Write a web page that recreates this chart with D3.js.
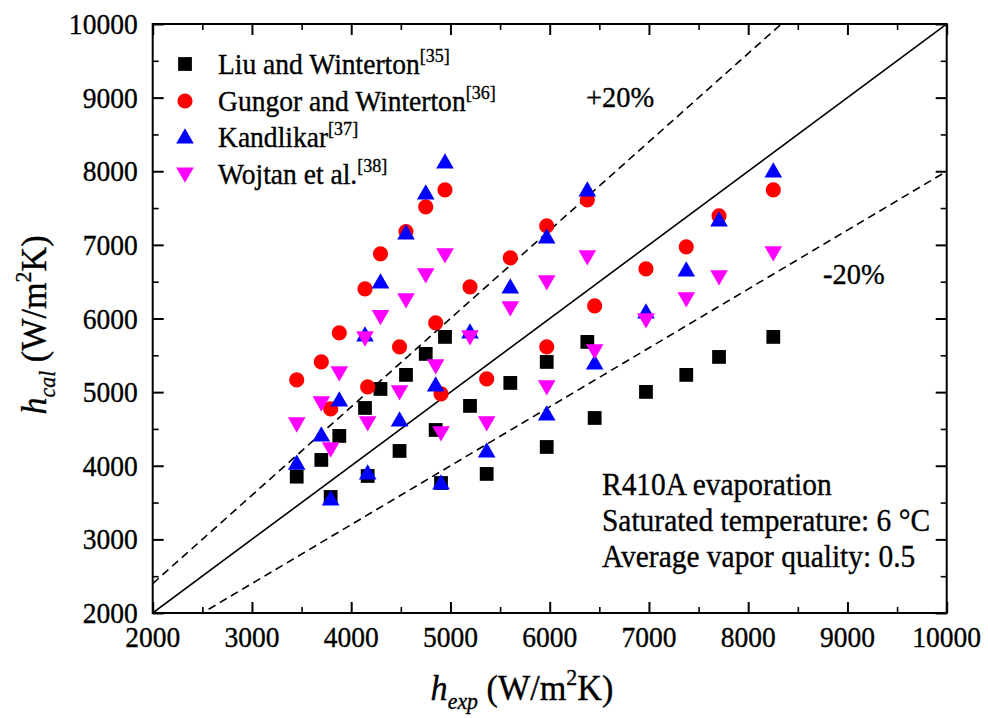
<!DOCTYPE html>
<html>
<head>
<meta charset="utf-8">
<script src="https://cdn.jsdelivr.net/npm/d3@7"></script>
<style>
  body { margin: 0; background: #fff; }
  svg text { font-family: "Liberation Serif", "Times New Roman", serif; }
</style>
</head>
<body>
<svg id="chart"></svg>
<script>
// experimental h (x) shared by all four correlations
const hExp = [3451, 3699, 3793, 3880, 4139, 4166, 4295, 4487, 4552, 4751, 4851, 4905,
  4945, 5197, 5365, 5603, 5970, 5970, 6379, 6453, 6970, 7376, 7706, 8253];

const liuWinterton = [3852, 4079, 3576, 4405, 4785, 3861, 5043, 4201, 5234, 5519, 4486, 3766,
  5750, 4813, 3889, 5125, 5410, 4255, 5682, 4649, 5003, 5234, 5478, 5750];
const gungorWinterton = [5166, 5410, 4772, 5804, 6402, 5071, 6878, 5614, 7181, 7516, 5940, 4976,
  7747, 6429, 5179, 6823, 7258, 5614, 7611, 6171, 6674, 6973, 7394, 7747];
const kandlikar = [4034, 4418, 3549, 4894, 5777, 3902, 6497, 4622, 7163, 7707, 5098, 3766,
  8128, 5818, 4201, 6429, 7109, 4704, 7747, 5397, 6090, 6660, 7340, 8005];
const wojtan = [4568, 4853, 4228, 5261, 5736, 4582, 6026, 5003, 6253, 6592, 5356, 4446,
  6864, 5750, 4582, 6144, 6497, 5071, 6837, 5560, 5981, 6266, 6565, 6891];

const seriesNames = ["Liu and Winterton", "Gungor and Winterton", "Kandlikar", "Wojtan et al."];
const seriesRefs = ["[35]", "[36]", "[37]", "[38]"];
const seriesValues = [liuWinterton, gungorWinterton, kandlikar, wojtan];

const xTicks = [2000, 3000, 4000, 5000, 6000, 7000, 8000, 9000, 10000];
const yTicks = [2000, 3000, 4000, 5000, 6000, 7000, 8000, 9000, 10000];
const deviationRatios = [1, 1.2, 0.8];
const infoLines = ["R410A evaporation", "Saturated temperature: 6 \u00B0C", "Average vapor quality: 0.5"];

const svgSize = { width: 988, height: 718 };
const margin = { top: 24, right: 41.3, bottom: 105, left: 152.7 };
const squeeze = 0.95;
const fontSize = 29;

const seriesStyles = [
  { symbol: d3.symbolSquare, size: 190, color: "#000000", rotate: 0 },
  { symbol: d3.symbolCircle, size: 180, color: "#ff0000", rotate: 0 },
  { symbol: d3.symbolTriangle, size: 135, color: "#0000ff", rotate: 0 },
  { symbol: d3.symbolTriangle, size: 135, color: "#ff00ff", rotate: 180 }
];

const svg = d3.select("#chart")
  .attr("width", svgSize.width)
  .attr("height", svgSize.height);

const xScale = d3.scaleLinear()
  .domain([2000, 10000])
  .range([margin.left, svgSize.width - margin.right]);
const yScale = d3.scaleLinear()
  .domain([2000, 10000])
  .range([svgSize.height - margin.bottom, margin.top]);

function squeezedText(group, x, y, anchor, size = fontSize) {
  return group.append("text")
    .attr("transform", `translate(${x},${y}) scale(${squeeze},1)`)
    .attr("text-anchor", anchor)
    .style("font-size", `${size}px`)
    .attr("fill", "#000")
    .attr("stroke", "#000")
    .attr("stroke-width", 0.35);
}

function drawReferenceLines() {
  svg.append("clipPath").attr("id", "plot-clip")
    .append("rect")
    .attr("x", xScale(2000)).attr("y", yScale(10000))
    .attr("width", xScale(10000) - xScale(2000))
    .attr("height", yScale(2000) - yScale(10000));

  const lineGroup = svg.append("g").attr("clip-path", "url(#plot-clip)");
  deviationRatios.forEach((ratio) => {
    lineGroup.append("line")
      .attr("x1", xScale(2000)).attr("y1", yScale(2000 * ratio))
      .attr("x2", xScale(10000)).attr("y2", yScale(10000 * ratio))
      .attr("stroke", "#000")
      .attr("stroke-width", 1.6)
      .attr("stroke-dasharray", ratio === 1 ? null : "8,5");
  });
}

function drawAxes() {
  const plotHeight = yScale(2000) - yScale(10000);
  const plotWidth = xScale(10000) - xScale(2000);
  const minorX = d3.range(2500, 10000, 1000);
  const minorY = d3.range(2500, 10000, 1000);

  const axes = [
    { make: d3.axisBottom, scale: xScale, at: `translate(0,${yScale(2000)})`, isX: true },
    { make: d3.axisTop, scale: xScale, at: `translate(0,${yScale(10000)})`, isX: true },
    { make: d3.axisLeft, scale: yScale, at: `translate(${xScale(2000)},0)`, isX: false },
    { make: d3.axisRight, scale: yScale, at: `translate(${xScale(10000)},0)`, isX: false }
  ];

  axes.forEach((a) => {
    const major = a.make(a.scale).tickValues(a.isX ? xTicks : yTicks)
      .tickFormat("").tickSizeOuter(0).tickSizeInner(-11);
    const g = svg.append("g").attr("transform", a.at).call(major);
    g.select(".domain").remove();
    g.selectAll(".tick line").attr("stroke", "#000").attr("stroke-width", 2);

    const minor = a.make(a.scale).tickValues(a.isX ? minorX : minorY)
      .tickFormat("").tickSizeOuter(0).tickSizeInner(-6);
    const gm = svg.append("g").attr("transform", a.at).call(minor);
    gm.select(".domain").remove();
    gm.selectAll(".tick line").attr("stroke", "#000").attr("stroke-width", 1.6);
  });

  svg.append("rect")
    .attr("x", xScale(2000)).attr("y", yScale(10000))
    .attr("width", plotWidth).attr("height", plotHeight)
    .attr("fill", "none").attr("stroke", "#000").attr("stroke-width", 2);

  const labels = svg.append("g");
  xTicks.forEach((t) => {
    squeezedText(labels, xScale(t), yScale(2000) + 34, "middle").text(t);
  });
  yTicks.forEach((t) => {
    squeezedText(labels, xScale(2000) - 15, yScale(t) + 10, "end").text(t);
  });
}

function drawAxisTitle(x, y, rotate, sub) {
  const t = svg.append("text")
    .attr("transform", `translate(${x},${y}) rotate(${rotate}) scale(${squeeze},1)`)
    .attr("text-anchor", "middle")
    .style("font-size", "36px")
    .attr("fill", "#000")
    .attr("stroke", "#000")
    .attr("stroke-width", 0.35);
  t.append("tspan").style("font-style", "italic").text("h");
  t.append("tspan").style("font-style", "italic").style("font-size", "23px").attr("dy", 9).text(sub);
  t.append("tspan").attr("dy", -9).text(" (W/m");
  t.append("tspan").style("font-size", "23px").attr("dy", -15).text("2");
  t.append("tspan").attr("dy", 15).text("K)");
}

function drawPoints() {
  seriesValues.forEach((values, i) => {
    const style = seriesStyles[i];
    const symbol = d3.symbol().type(style.symbol).size(style.size);
    const off = style.symbol === d3.symbolTriangle ? (style.rotate ? -1.5 : 1.5) : 0;
    svg.append("g")
      .selectAll("path")
      .data(values.map((v, j) => ({ x: hExp[j], y: v })))
      .enter()
      .append("path")
      .attr("d", symbol)
      .attr("fill", style.color)
      .attr("transform", (d) =>
        `translate(${xScale(d.x)},${yScale(d.y) + off}) rotate(${style.rotate})`);
  });
}

function drawLegend() {
  const legend = svg.append("g");
  const rowY = [64, 101, 137, 174];
  seriesNames.forEach((name, i) => {
    const style = seriesStyles[i];
    const off = style.symbol === d3.symbolTriangle ? (style.rotate ? -1.5 : 1.5) : 0;
    legend.append("path")
      .attr("d", d3.symbol().type(style.symbol).size(style.size))
      .attr("fill", style.color)
      .attr("transform", `translate(185,${rowY[i] + off}) rotate(${style.rotate})`);
    const t = squeezedText(legend, 218, rowY[i] + 10, "start");
    t.append("tspan").text(name);
    t.append("tspan").style("font-size", "19px").attr("dy", -12).text(seriesRefs[i]);
  });
}

function drawAnnotations() {
  const notes = svg.append("g");
  squeezedText(notes, 586, 107, "start", 30).text("+20%");
  squeezedText(notes, 823, 284, "start", 30).text("-20%");
  infoLines.forEach((line, i) => {
    squeezedText(notes, 602, 495 + i * 36, "start", 31).text(line);
  });
}

drawReferenceLines();
drawPoints();
drawAxes();
drawLegend();
drawAnnotations();
drawAxisTitle(522, 700, 0, "exp");
drawAxisTitle(46, 325, -90, "cal");
</script>
</body>
</html>
